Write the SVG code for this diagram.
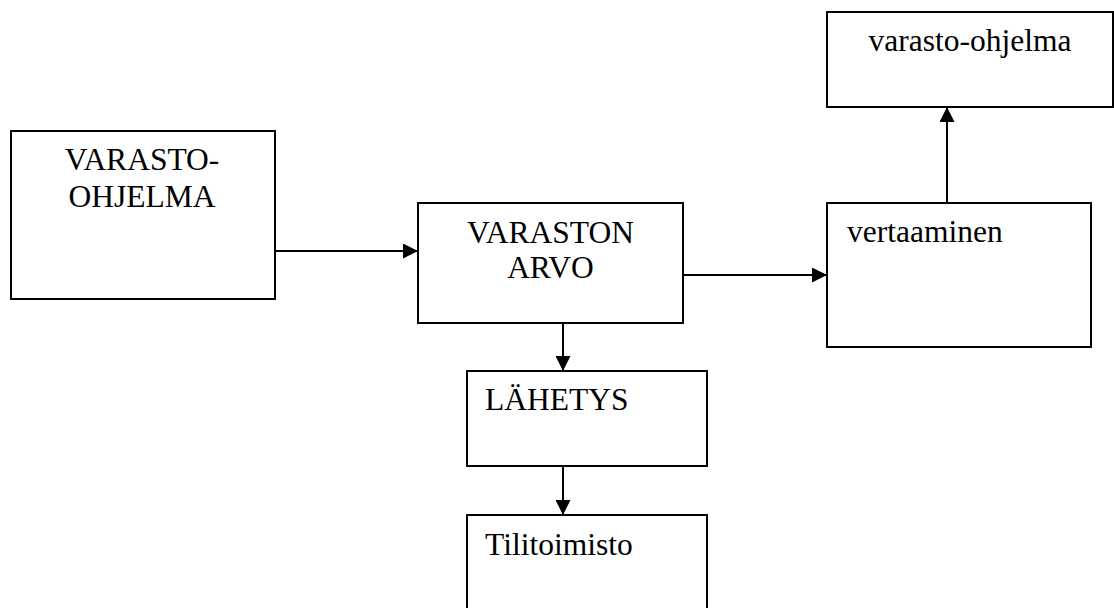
<svg xmlns="http://www.w3.org/2000/svg" width="1114" height="608" viewBox="0 0 1114 608">
<style>
.box{fill:#fff;stroke:#000;stroke-width:2}
.t{font-family:"Liberation Serif","Times New Roman",serif;font-size:31.5px;fill:#000}
.c{text-anchor:middle}
.ln{stroke:#000;stroke-width:2;fill:none;marker-end:url(#ah)}
</style>
<defs>
<marker id="ah" markerWidth="16" markerHeight="16" refX="15" refY="7.5" orient="auto" markerUnits="userSpaceOnUse">
<path d="M0,0 L15,7.5 L0,15 Z" fill="#000"/>
</marker>
</defs>
<rect width="1114" height="608" fill="#fff"/>
<g id="connectors">
<line class="ln" x1="275" y1="251" x2="418" y2="251"/>
<line class="ln" x1="683" y1="275" x2="827" y2="275"/>
<line class="ln" x1="947" y1="203" x2="947" y2="107"/>
<line class="ln" x1="563" y1="323" x2="563" y2="371"/>
<line class="ln" x1="563" y1="466" x2="563" y2="515"/>
</g>
<g id="n1">
<rect class="box" x="11" y="131" width="264" height="168"/>
<text class="t c" x="142" y="170">VARASTO-</text>
<text class="t c" x="142" y="207">OHJELMA</text>
</g>
<g id="n2">
<rect class="box" x="418" y="203" width="265" height="120"/>
<text class="t c" x="550.5" y="243">VARASTON</text>
<text class="t c" x="550.5" y="278">ARVO</text>
</g>
<g id="n3">
<rect class="box" x="827" y="203" width="264" height="144"/>
<text class="t" x="847" y="242">vertaaminen</text>
</g>
<g id="n4">
<rect class="box" x="827" y="12" width="286" height="95"/>
<text class="t c" x="970" y="51">varasto-ohjelma</text>
</g>
<g id="n5">
<rect class="box" x="467" y="371" width="240" height="95"/>
<text class="t" x="485" y="410">LÄHETYS</text>
</g>
<g id="n6">
<rect class="box" x="467" y="515" width="240" height="110"/>
<text class="t" x="485" y="555">Tilitoimisto</text>
</g>
</svg>
